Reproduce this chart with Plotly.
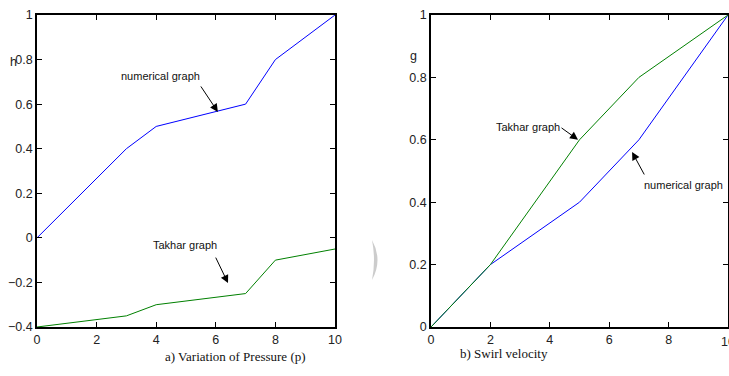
import plotly.graph_objects as go

W, H = 729, 376

# Panel a) Variation of Pressure
xa_num = [0, 3, 4, 7, 8, 10]
ya_num = [0, 0.4, 0.5, 0.6, 0.8, 1.0]
xa_tak = [0, 3, 4, 7, 8, 10]
ya_tak = [-0.4, -0.35, -0.3, -0.25, -0.1, -0.05]

# Panel b) Swirl velocity
xb_tak = [0, 2, 5, 7, 10]
yb_tak = [0, 0.2, 0.6, 0.8, 1.0]
xb_num = [0, 2, 5, 7, 10]
yb_num = [0, 0.2, 0.4, 0.6, 1.0]

xa_ticks = [0, 2, 4, 6, 8, 10]
ya_ticks = [-0.4, -0.2, 0, 0.2, 0.4, 0.6, 0.8, 1]
xb_ticks = [0, 2, 4, 6, 8, 10]
yb_ticks = [0, 0.2, 0.4, 0.6, 0.8, 1]

BLUE = "#0000ff"
GREEN = "#008000"
SANS = "Liberation Sans, Arial, sans-serif"
TICKFONT = dict(family=SANS, size=12.5, color="#222")
ANNFONT = dict(family=SANS, size=11, color="#111")
SERIF = dict(family="Liberation Serif, Times New Roman, serif", size=13, color="#111")

fig = go.Figure()
fig.add_trace(go.Scatter(x=xa_num, y=ya_num, mode="lines", line=dict(color=BLUE, width=1), xaxis="x", yaxis="y"))
fig.add_trace(go.Scatter(x=xa_tak, y=ya_tak, mode="lines", line=dict(color=GREEN, width=1), xaxis="x", yaxis="y"))
fig.add_trace(go.Scatter(x=xb_num, y=yb_num, mode="lines", line=dict(color=BLUE, width=1), xaxis="x2", yaxis="y2"))
fig.add_trace(go.Scatter(x=xb_tak, y=yb_tak, mode="lines", line=dict(color=GREEN, width=1), xaxis="x2", yaxis="y2"))

ax_common = dict(showgrid=False, zeroline=False, showline=True, linecolor="black", linewidth=1.5,
                 mirror="ticks", ticks="inside", ticklen=5, tickwidth=1, tickcolor="black",
                 tickfont=TICKFONT, automargin=False)

ydom = [49 / H, 361 / H]
fig.update_layout(
    width=W, height=H, margin=dict(l=0, r=0, t=0, b=0),
    paper_bgcolor="white", plot_bgcolor="white", showlegend=False,
    xaxis=dict(domain=[37 / W, 335 / W], range=[0, 10], tickvals=xa_ticks, anchor="y", **ax_common),
    yaxis=dict(domain=ydom, range=[-0.4, 1], tickvals=ya_ticks, anchor="x", **ax_common),
    xaxis2=dict(domain=[431 / W, 728 / W], range=[0, 10], tickvals=xb_ticks, anchor="y2", **ax_common),
    yaxis2=dict(domain=ydom, range=[0, 1], tickvals=yb_ticks, anchor="x2", **ax_common),
)

anns = []
# text labels
anns.append(dict(x=4.13, y=0.726, xref="x", yref="y", text="numerical graph", showarrow=False, font=ANNFONT))
anns.append(dict(x=4.97, y=-0.032, xref="x", yref="y", text="Takhar graph", showarrow=False, font=ANNFONT))
anns.append(dict(x=3.27, y=0.641, xref="x2", yref="y2", text="Takhar graph", showarrow=False, font=ANNFONT))
anns.append(dict(x=8.49, y=0.455, xref="x2", yref="y2", text="numerical graph", showarrow=False, font=ANNFONT))
# arrows
arrow = dict(text="", showarrow=True, arrowhead=2, arrowsize=1.6, arrowwidth=1, arrowcolor="black")
anns.append(dict(x=6.07, y=0.565, xref="x", yref="y", ax=-18, ay=-27, **arrow))
anns.append(dict(x=6.41, y=-0.203, xref="x", yref="y", ax=-13, ay=-27, **arrow))
anns.append(dict(x=4.95, y=0.6, xref="x2", yref="y2", ax=-18, ay=-13, **arrow))
anns.append(dict(x=6.77, y=0.561, xref="x2", yref="y2", ax=13, ay=24, **arrow))
# clipped last tick label of panel b (cut by the page edge as in the reference)
anns.append(dict(x=xb_ticks[-1], y=1 - 342 / H, xref="x2", yref="paper", text=str(xb_ticks[-1]),
                 showarrow=False, font=TICKFONT, xanchor="center", yanchor="middle"))
# axis labels
anns.append(dict(x=8 / W, y=1 - 53 / H, xref="paper", yref="paper", text="h", showarrow=False, font=TICKFONT))
anns.append(dict(x=413 / W, y=1 - 47 / H, xref="paper", yref="paper", text="g", showarrow=False, font=TICKFONT))
anns.append(dict(x=163 / W, y=1 - 366 / H, xref="paper", yref="paper", text="a) Variation of Pressure (p)", showarrow=False, font=SERIF))
anns.append(dict(x=550 / W, y=1 - 363 / H, xref="paper", yref="paper", text="b) Swirl velocity", showarrow=False, font=SERIF))
fig.update_layout(annotations=anns)

# faint watermark crescent
fig.add_shape(type="path", xref="paper", yref="paper",
              path=f"M {372/W} {1-240/H} Q {383/W} {1-260/H} {372/W} {1-280/H} Q {376/W} {1-260/H} {372/W} {1-240/H} Z",
              fillcolor="#cccccc", line=dict(width=0), layer="below")

fig.write_html("out.html")
